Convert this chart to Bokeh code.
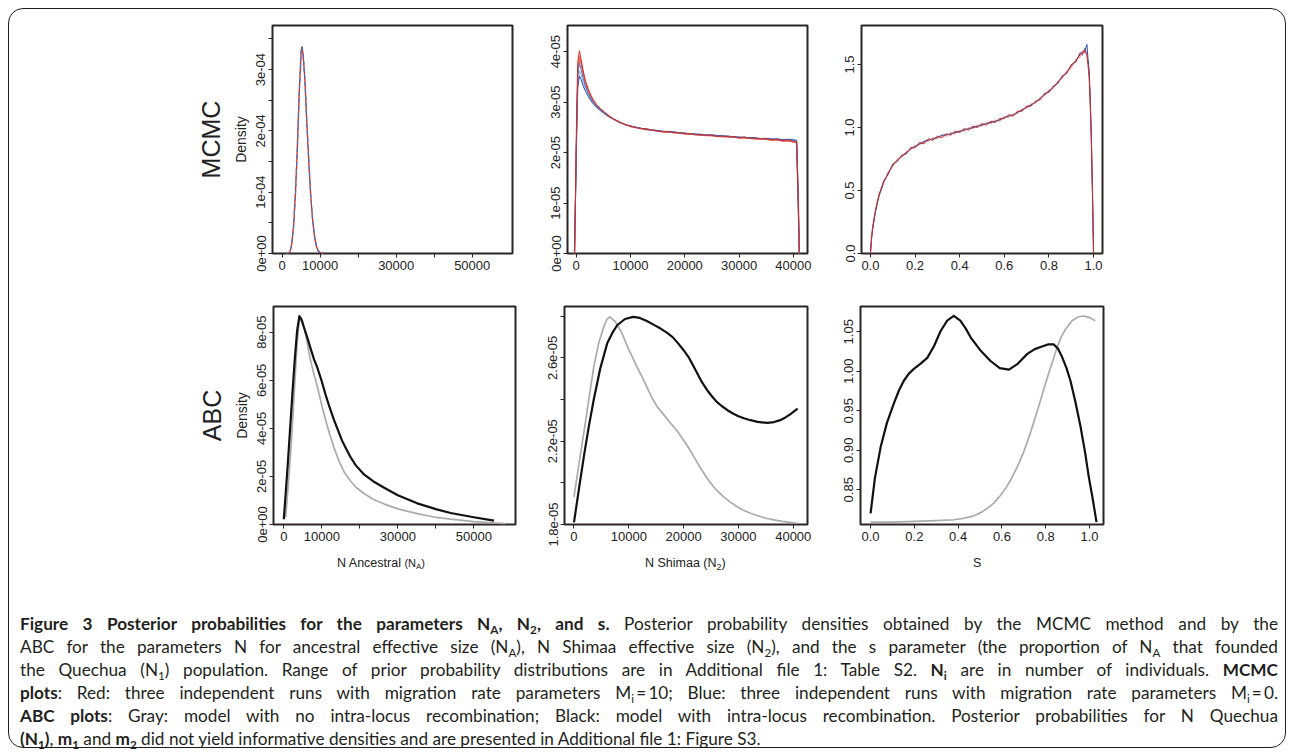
import numpy as np
from bokeh.plotting import figure
from bokeh.layouts import column, row
from bokeh.models import FixedTicker, Title, Div, Range1d
from bokeh.embed import file_html
from bokeh.resources import INLINE

FONT = "Liberation Sans"
AX = "#2b2624"
TXT = "#222222"

# ---------------- MCMC, N Ancestral ----------------
TL_X = [1000, 1500, 2000, 2500, 3000, 3500, 4000, 4500, 5000, 5200, 5500,
        6000, 6500, 7000, 7500, 8000, 8500, 9000, 9500, 10000, 10500, 11000]
TL_RED = np.array([0, 0.0, 0.02, 0.15, 0.45, 1.0, 1.75, 2.65, 3.3, 3.38, 3.25,
                   2.8, 2.1, 1.5, 0.95, 0.55, 0.28, 0.12, 0.04, 0.01, 0.0, 0.0]) * 1e-4
TL_BLUE = np.array([0, 0.0, 0.02, 0.14, 0.44, 0.98, 1.74, 2.63, 3.31, 3.37, 3.26,
                    2.82, 2.12, 1.51, 0.96, 0.56, 0.29, 0.12, 0.04, 0.01, 0.0, 0.0]) * 1e-4

# ---------------- MCMC, N Shimaa ----------------
TM_X = [-300, 100, 300, 600, 900, 1300, 1700, 2200, 2700, 3200, 3800, 4500, 5200,
        6000, 7000, 8000, 9000, 10000, 11000, 12000, 13000, 14000, 15000, 16000,
        17000, 18000, 19000, 20000, 21000, 22000, 23000, 24000, 25000, 26000,
        27000, 28000, 29000, 30000, 31000, 32000, 33000, 34000, 35000, 36000,
        37000, 38000, 39000, 40000, 40600, 40900, 41100]
TM_RED1 = np.array([0, 2.9, 3.8, 4.02, 3.85, 3.62, 3.42, 3.27, 3.14, 3.04, 2.95, 2.87, 2.81,
                    2.72, 2.66, 2.61, 2.55, 2.53, 2.49, 2.48, 2.47, 2.44, 2.43, 2.41, 2.42,
                    2.39, 2.40, 2.37, 2.38, 2.35, 2.36, 2.34, 2.35, 2.32, 2.33, 2.31, 2.32,
                    2.29, 2.31, 2.28, 2.29, 2.27, 2.28, 2.25, 2.26, 2.24, 2.25, 2.22, 2.21,
                    1.0, 0]) * 1e-5
TM_RED2 = np.array([0, 2.5, 3.55, 3.88, 3.76, 3.55, 3.38, 3.22, 3.11, 3.00, 2.92, 2.85, 2.79,
                    2.74, 2.65, 2.59, 2.56, 2.51, 2.50, 2.47, 2.45, 2.45, 2.42, 2.41, 2.40,
                    2.40, 2.38, 2.37, 2.36, 2.36, 2.34, 2.34, 2.33, 2.32, 2.31, 2.32, 2.30,
                    2.29, 2.29, 2.28, 2.27, 2.27, 2.26, 2.25, 2.25, 2.23, 2.23, 2.21, 2.20,
                    0.8, 0]) * 1e-5
TM_RED3 = np.array([0, 2.7, 3.7, 3.92, 3.80, 3.58, 3.40, 3.25, 3.12, 3.02, 2.94, 2.86, 2.80,
                    2.73, 2.67, 2.60, 2.57, 2.52, 2.51, 2.47, 2.46, 2.44, 2.44, 2.41, 2.41,
                    2.39, 2.39, 2.37, 2.37, 2.35, 2.35, 2.33, 2.34, 2.32, 2.32, 2.30, 2.31,
                    2.29, 2.28, 2.28, 2.27, 2.26, 2.26, 2.24, 2.25, 2.22, 2.23, 2.21, 2.19,
                    1.2, 0]) * 1e-5
TM_BLUE1 = np.array([0, 2.4, 3.3, 3.52, 3.45, 3.32, 3.22, 3.12, 3.03, 2.96, 2.89, 2.83, 2.77,
                     2.71, 2.65, 2.60, 2.55, 2.53, 2.50, 2.48, 2.47, 2.45, 2.44, 2.42, 2.42,
                     2.41, 2.39, 2.39, 2.37, 2.37, 2.36, 2.35, 2.35, 2.34, 2.33, 2.33, 2.31,
                     2.31, 2.30, 2.30, 2.29, 2.28, 2.28, 2.27, 2.27, 2.26, 2.26, 2.25, 2.24,
                     1.1, 0]) * 1e-5
TM_BLUE2 = np.array([0, 2.5, 3.4, 3.62, 3.55, 3.40, 3.28, 3.16, 3.06, 2.98, 2.90, 2.84, 2.78,
                     2.72, 2.66, 2.61, 2.56, 2.52, 2.51, 2.48, 2.46, 2.46, 2.43, 2.43, 2.41,
                     2.41, 2.40, 2.38, 2.38, 2.36, 2.37, 2.34, 2.35, 2.33, 2.34, 2.31, 2.32,
                     2.30, 2.31, 2.29, 2.30, 2.27, 2.29, 2.26, 2.28, 2.25, 2.27, 2.26, 2.25,
                     1.3, 0]) * 1e-5
TM_BLUE3 = np.array([0, 2.6, 3.55, 3.78, 3.65, 3.47, 3.32, 3.18, 3.08, 2.99, 2.91, 2.85, 2.79,
                     2.72, 2.66, 2.60, 2.56, 2.52, 2.50, 2.48, 2.46, 2.44, 2.43, 2.42, 2.41,
                     2.40, 2.39, 2.38, 2.37, 2.36, 2.35, 2.35, 2.34, 2.33, 2.32, 2.32, 2.31,
                     2.30, 2.30, 2.29, 2.28, 2.28, 2.27, 2.27, 2.26, 2.25, 2.25, 2.24, 2.23,
                     0.9, 0]) * 1e-5

# ---------------- MCMC, s ----------------
TR_X = [0.0, 0.005, 0.01, 0.02, 0.03, 0.04, 0.05, 0.06, 0.08,
        0.10, 0.12, 0.14, 0.16, 0.18, 0.20, 0.22, 0.24, 0.26, 0.28,
        0.30, 0.32, 0.34, 0.36, 0.38, 0.40, 0.42, 0.44, 0.46, 0.48,
        0.50, 0.52, 0.54, 0.56, 0.58, 0.60, 0.62, 0.64, 0.66, 0.68,
        0.70, 0.72, 0.74, 0.76, 0.78, 0.80, 0.82, 0.84, 0.86, 0.88,
        0.90, 0.92, 0.94,
        0.95, 0.96, 0.97, 0.975, 0.98, 0.985, 0.99, 0.995, 1.0]
TR_RED_A = [0.0, 0.13, 0.21, 0.32, 0.40, 0.48, 0.52, 0.58, 0.63,
            0.71, 0.73, 0.78, 0.79, 0.84, 0.84, 0.88, 0.87, 0.91, 0.90,
            0.93, 0.92, 0.95, 0.94, 0.97, 0.96, 0.99, 0.98, 1.01, 1.00,
            1.03, 1.02, 1.05, 1.04, 1.07, 1.07, 1.10, 1.09, 1.13, 1.13,
            1.17, 1.17, 1.21, 1.22, 1.27, 1.28, 1.33, 1.35, 1.41, 1.43,
            1.50, 1.52, 1.59,
            1.58, 1.62, 1.57, 1.50, 1.40, 1.18, 0.88, 0.48, 0.0]
TR_RED_B = [0.0, 0.11, 0.20, 0.30, 0.41, 0.46, 0.53, 0.56, 0.65,
            0.69, 0.75, 0.76, 0.81, 0.82, 0.86, 0.86, 0.89, 0.89, 0.92,
            0.91, 0.94, 0.93, 0.96, 0.95, 0.98, 0.97, 1.00, 0.99, 1.02,
            1.01, 1.04, 1.03, 1.06, 1.05, 1.09, 1.08, 1.11, 1.11, 1.15,
            1.15, 1.19, 1.19, 1.24, 1.25, 1.30, 1.31, 1.37, 1.39, 1.45,
            1.47, 1.54, 1.56,
            1.61, 1.59, 1.60, 1.52, 1.43, 1.22, 0.92, 0.50, 0.0]
TR_BLUE_A = [0.0, 0.12, 0.19, 0.31, 0.39, 0.47, 0.51, 0.57, 0.64,
             0.70, 0.74, 0.77, 0.80, 0.83, 0.85, 0.87, 0.89, 0.90, 0.91,
             0.92, 0.94, 0.94, 0.95, 0.96, 0.97, 0.98, 0.99, 1.00, 1.01,
             1.02, 1.03, 1.04, 1.05, 1.06, 1.08, 1.09, 1.10, 1.12, 1.14,
             1.16, 1.18, 1.20, 1.23, 1.26, 1.29, 1.32, 1.36, 1.40, 1.44,
             1.49, 1.53, 1.58,
             1.60, 1.60, 1.66, 1.55, 1.45, 1.25, 0.95, 0.52, 0.0]
TR_BLUE_B = [0.0, 0.12, 0.21, 0.30, 0.41, 0.46, 0.53, 0.57, 0.63,
             0.71, 0.73, 0.78, 0.79, 0.84, 0.84, 0.88, 0.88, 0.91, 0.90,
             0.93, 0.93, 0.95, 0.94, 0.97, 0.97, 0.99, 0.99, 1.01, 1.01,
             1.03, 1.03, 1.05, 1.05, 1.07, 1.08, 1.10, 1.10, 1.13, 1.13,
             1.17, 1.17, 1.21, 1.22, 1.27, 1.28, 1.33, 1.35, 1.41, 1.43,
             1.50, 1.52, 1.60,
             1.57, 1.63, 1.59, 1.53, 1.44, 1.20, 0.90, 0.46, 0.0]

# ---------------- ABC, N Ancestral ----------------
BL_BLACK_X = [0, 500, 1000, 1500, 2000, 2500, 3000, 3500, 4100, 4600, 5200, 6160, 7000,
              8000, 8800, 10000, 11000, 12000, 13200, 14200, 15300, 16400, 17500, 19000,
              21000, 23500, 26300, 30000, 35100, 40000, 43900, 50000, 55300]
BL_BLACK_Y = np.array([0.22, 1.3, 2.4, 3.6, 4.8, 6.0, 7.1, 8.05, 8.67, 8.55, 8.25, 7.79, 7.35,
                       6.85, 6.54, 5.95, 5.4, 4.9, 4.35, 3.95, 3.5, 3.15, 2.82, 2.45,
                       2.1, 1.8, 1.54, 1.22, 0.88, 0.64, 0.48, 0.3, 0.16]) * 1e-5
BL_GRAY_X = [500, 1000, 1500, 2000, 2500, 3000, 3500, 4000, 4400, 5000, 5500, 6000, 7000,
             8000, 8800, 10000, 11000, 12000, 13200, 14500, 16000, 17500, 19000, 21000,
             23500, 26300, 30000, 35100, 40000, 43900, 50000, 58300]
BL_GRAY_Y = np.array([0.3, 1.3, 2.3, 3.5, 4.8, 6.2, 7.5, 8.4, 8.6, 8.45, 8.1, 7.7, 6.85,
                      6.2, 5.75, 4.95, 4.35, 3.8, 3.2, 2.65, 2.15, 1.82, 1.55, 1.3,
                      1.05, 0.86, 0.65, 0.45, 0.3, 0.22, 0.12, 0.04]) * 1e-5

# ---------------- ABC, N Shimaa ----------------
BM_BLACK_X = [0, 900, 1790, 2700, 3610, 4800, 6060, 7000, 7880, 9300, 10800, 12000, 13300,
              14500, 15800, 17000, 18000, 19000, 20000, 21000, 22000, 23200, 24300, 25200,
              26000, 27000, 28000, 29000, 30000, 31000, 32200, 33500, 35300, 36500, 37500,
              38500, 39500, 40200, 40800]
BM_BLACK_Y = np.array([1.81, 1.97, 2.125, 2.27, 2.40, 2.55, 2.67, 2.72, 2.757, 2.787, 2.797,
                       2.792, 2.777, 2.76, 2.741, 2.72, 2.70, 2.67, 2.637, 2.60, 2.55, 2.49,
                       2.445, 2.415, 2.39, 2.368, 2.349, 2.333, 2.32, 2.31, 2.301, 2.293,
                       2.288, 2.292, 2.30, 2.313, 2.33, 2.345, 2.357]) * 1e-5
BM_GRAY_X = [0, 900, 1790, 2700, 3610, 4500, 5430, 6000, 6530, 7500, 8480, 9200, 10000,
             11500, 12400, 13300, 14200, 15200, 16300, 17500, 18800, 20000, 21000, 22000,
             23000, 23700, 24600, 25500, 26400, 27300, 28400, 29500, 30800, 32200, 33500,
             35000, 36500, 38000, 39500, 40800]
BM_GRAY_Y = np.array([1.933, 2.09, 2.239, 2.40, 2.557, 2.67, 2.749, 2.785, 2.797, 2.775,
                      2.733, 2.69, 2.64, 2.557, 2.51, 2.46, 2.41, 2.365, 2.33, 2.29, 2.25,
                      2.205, 2.165, 2.12, 2.075, 2.046, 2.01, 1.98, 1.955, 1.933, 1.91,
                      1.89, 1.87, 1.854, 1.842, 1.83, 1.822, 1.815, 1.81, 1.806]) * 1e-5

# ---------------- ABC, s ----------------
BR_BLACK_X = [0.0, 0.02, 0.046, 0.075, 0.106, 0.13, 0.152, 0.175, 0.198, 0.23, 0.259, 0.29,
              0.32, 0.35, 0.38, 0.41, 0.435, 0.457, 0.5, 0.548, 0.59, 0.632, 0.67, 0.716,
              0.75, 0.78, 0.81, 0.837, 0.855, 0.875, 0.895, 0.913, 0.935, 0.959, 0.98,
              0.997, 1.015, 1.032]
BR_BLACK_Y = [0.820, 0.865, 0.904, 0.935, 0.959, 0.976, 0.988, 0.997, 1.003, 1.010, 1.017,
              1.032, 1.051, 1.064, 1.070, 1.064, 1.054, 1.043, 1.027, 1.013, 1.004, 1.002,
              1.009, 1.022, 1.028, 1.031, 1.034, 1.034, 1.029, 1.018, 1.004, 0.988, 0.962,
              0.930, 0.897, 0.866, 0.838, 0.809]
BR_GRAY_X = [0.0, 0.1, 0.2, 0.3, 0.38, 0.43, 0.472, 0.51, 0.54, 0.563, 0.594, 0.62, 0.639,
             0.67, 0.70, 0.73, 0.756, 0.776, 0.8, 0.82, 0.837, 0.853, 0.868, 0.89, 0.92,
             0.95, 0.974, 1.0, 1.027]
BR_GRAY_Y = [0.809, 0.809, 0.810, 0.811, 0.812, 0.814, 0.817, 0.822, 0.828, 0.833, 0.843,
             0.853, 0.862, 0.879, 0.898, 0.922, 0.945, 0.963, 0.985, 1.003, 1.017, 1.031,
             1.042, 1.053, 1.064, 1.069, 1.070, 1.068, 1.064]

# ---------------- ticks ----------------
TL_XT = [0, 10000, 20000, 30000, 40000, 50000]
TL_XL = ["0", "10000", "", "30000", "", "50000"]
TL_YT = [0, 0.5e-4, 1e-4, 1.5e-4, 2e-4, 2.5e-4, 3e-4, 3.5e-4]
TL_YL = ["0e+00", "", "1e-04", "", "2e-04", "", "3e-04", ""]
TM_XT = [0, 10000, 20000, 30000, 40000]
TM_XL = ["0", "10000", "20000", "30000", "40000"]
TM_YT = [0, 1e-5, 2e-5, 3e-5, 4e-5]
TM_YL = ["0e+00", "1e-05", "2e-05", "3e-05", "4e-05"]
S_XT = [0.0, 0.2, 0.4, 0.6, 0.8, 1.0]
S_XL = ["0.0", "0.2", "0.4", "0.6", "0.8", "1.0"]
TR_YT = [0.0, 0.5, 1.0, 1.5]
TR_YL = ["0.0", "0.5", "1.0", "1.5"]
BL_YT = [0, 2e-5, 4e-5, 6e-5, 8e-5]
BL_YL = ["0e+00", "2e-05", "4e-05", "6e-05", "8e-05"]
BM_YT = [1.8e-5, 2.0e-5, 2.2e-5, 2.4e-5, 2.6e-5, 2.8e-5]
BM_YL = ["1.8e-05", "", "2.2e-05", "", "2.6e-05", ""]
BR_YT = [0.85, 0.90, 0.95, 1.00, 1.05]
BR_YL = ["0.85", "0.90", "0.95", "1.00", "1.05"]

RED = ["#d62a1e", "#e8503f", "#f29a8c"]
BLUE = ["#2a4ea6", "#4a72c8", "#8eaee6"]
BLACK = "#111111"
GRAY = "#ababab"


def make_fig(xr, yr, fw, fh, bl, br, bt, bb, xt, xl, yt, yl):
    p = figure(frame_width=fw, frame_height=fh,
               min_border_left=bl, min_border_right=br,
               min_border_top=bt, min_border_bottom=bb,
               x_range=Range1d(*xr), y_range=Range1d(*yr),
               output_backend="svg", toolbar_location=None)
    p.xaxis.ticker = FixedTicker(ticks=xt, minor_ticks=[])
    p.yaxis.ticker = FixedTicker(ticks=yt, minor_ticks=[])
    p.xaxis.major_label_overrides = {t: l for t, l in zip(xt, xl)}
    p.yaxis.major_label_overrides = {t: l for t, l in zip(yt, yl)}
    for ax in (p.xaxis[0], p.yaxis[0]):
        ax.axis_line_color = None
        ax.major_tick_line_color = AX
        ax.major_tick_line_width = 1
        ax.major_tick_out = 4
        ax.major_tick_in = 0
        ax.minor_tick_line_color = None
        ax.major_label_text_font = FONT
        ax.major_label_text_font_size = "13px"
        ax.major_label_text_color = TXT
        ax.major_label_standoff = 3
    p.yaxis.major_label_orientation = "vertical"
    p.xgrid.visible = False
    p.ygrid.visible = False
    p.outline_line_color = AX
    p.outline_line_width = 2
    p.outline_line_alpha = 1
    p.background_fill_color = "white"
    p.border_fill_color = None
    return p


def row_title(p, name):
    p.yaxis.axis_label = "Density"
    p.yaxis.axis_label_text_font = FONT
    p.yaxis.axis_label_text_font_size = "14px"
    p.yaxis.axis_label_text_font_style = "normal"
    p.yaxis.axis_label_text_color = TXT
    p.yaxis.axis_label_standoff = 5
    p.add_layout(Title(text=name, align="center", text_font=FONT, text_font_size="25px",
                       text_font_style="normal", text_color=TXT, standoff=9), "left")


# ---- top row ----
tl = make_fig((-2550, 60600), (0, 3.72e-4), 240, 228, 264, 26, 17, 30, TL_XT, TL_XL, TL_YT, TL_YL)
tl.line(TL_X, TL_RED, line_color=RED[0], line_width=1.3)
tl.line(TL_X, TL_BLUE, line_color=BLUE[1], line_width=1.3, line_dash="4 3")
row_title(tl, "MCMC")

tm = make_fig((-1600, 42600), (0, 4.52e-5), 240, 228, 29, 25, 17, 30, TM_XT, TM_XL, TM_YT, TM_YL)
for ys, c in [(TM_BLUE2, BLUE[2]), (TM_RED3, RED[2]), (TM_BLUE1, BLUE[0]),
              (TM_RED2, RED[1]), (TM_BLUE3, BLUE[1]), (TM_RED1, RED[0])]:
    tm.line(TM_X, ys, line_color=c, line_width=1)

tr = make_fig((-0.04, 1.04), (0, 1.81), 241, 228, 29, 184, 17, 30, S_XT, S_XL, TR_YT, TR_YL)
for ys, c in [(TR_BLUE_B, BLUE[2]), (TR_RED_B, RED[2]), (TR_BLUE_A, BLUE[0]), (TR_RED_A, RED[0])]:
    tr.line(TR_X, ys, line_color=c, line_width=1)

# ---- bottom row ----
bl = make_fig((-2710, 60970), (0, 9.07e-5), 242, 218, 265, 23, 23, 26, TL_XT, TL_XL, BL_YT, BL_YL)
bl.line(BL_GRAY_X, BL_GRAY_Y, line_color=GRAY, line_width=1.7, line_join="round")
bl.line(BL_BLACK_X, BL_BLACK_Y, line_color=BLACK, line_width=2.2, line_join="round")
row_title(bl, "ABC")

bm = make_fig((-1730, 42600), (1.8e-5, 2.847e-5), 243, 218, 26, 25, 23, 26, TM_XT, TM_XL, BM_YT, BM_YL)
bm.line(BM_GRAY_X, BM_GRAY_Y, line_color=GRAY, line_width=1.7, line_join="round")
bm.line(BM_BLACK_X, BM_BLACK_Y, line_color=BLACK, line_width=2.2, line_join="round")

br = make_fig((-0.046, 1.064), (0.806, 1.082), 243, 218, 28, 183, 23, 26, S_XT, S_XL, BR_YT, BR_YL)
br.line(BR_GRAY_X, BR_GRAY_Y, line_color=GRAY, line_width=1.7, line_join="round")
br.line(BR_BLACK_X, BR_BLACK_Y, line_color=BLACK, line_width=2.2, line_join="round")

# ---- x-axis titles of the ABC row (with subscripts) + caption ----
XTITLES = [
    (329, 'N Ancestral <span style="font-size:11px">(N<sub style="font-size:8px">A</sub>)</span>'),
    (637, 'N Shimaa (N<sub style="font-size:9px">2</sub>)'),
    (965, 'S'),
]
CAPTION = [
    '<b>Figure 3 Posterior probabilities for the parameters N<sub>A</sub>, N<sub>2</sub>, and s.</b> '
    'Posterior probability densities obtained by the MCMC method and by the',
    'ABC for the parameters N for ancestral effective size (N<sub>A</sub>), N Shimaa effective size '
    '(N<sub>2</sub>), and the s parameter (the proportion of N<sub>A</sub> that founded',
    'the Quechua (N<sub>1</sub>) population. Range of prior probability distributions are in Additional '
    'file 1: Table S2. <b>N<sub>i</sub></b> are in number of individuals. <b>MCMC</b>',
    '<b>plots</b>: Red: three independent runs with migration rate parameters M<sub>i</sub>&#8201;=&#8201;10; '
    'Blue: three independent runs with migration rate parameters M<sub>i</sub>&#8201;=&#8201;0.',
    '<b>ABC plots</b>: Gray: model with no intra-locus recombination; Black: model with intra-locus '
    'recombination. Posterior probabilities for N Quechua',
    '<b>(N<sub>1</sub>)</b>, <b>m<sub>1</sub></b> and <b>m<sub>2</sub></b> did not yield informative '
    'densities and are presented in Additional file 1: Figure S3.',
]
parts = ['<style>sub{font-size:0.68em;vertical-align:-0.3em;line-height:0;}</style>',
         '<div style="position:relative;width:1278px;height:198px;margin:0;padding:0;">']
for left, t in XTITLES:
    parts.append(f'<span style="position:absolute;left:{left}px;top:5px;line-height:16px;'
                 f'font-family:\'Liberation Sans\';font-size:12.5px;color:{TXT};'
                 f'white-space:nowrap;">{t}</span>')
parts.append('<div style="position:absolute;left:12px;top:62px;width:1258px;font-family:Lato;'
             'font-size:17.2px;color:#231f20;">')
for i, t in enumerate(CAPTION):
    align = "justify" if i < len(CAPTION) - 1 else "left"
    parts.append(f'<div style="height:23px;line-height:23px;white-space:nowrap;'
                 f'text-align:{align};text-align-last:{align};">{t}</div>')
parts.append('</div></div>')
cap = Div(text="".join(parts), width=1278, height=198, margin=0)

page = column(row(tl, tm, tr), row(bl, bm, br), cap,
              styles={"margin": "8px 0 0 8px", "outline": "1.6px solid #1e1e1e",
                      "outline-offset": "-1px", "border-radius": "15px"})

open("out.html", "w").write(file_html(page, INLINE))
